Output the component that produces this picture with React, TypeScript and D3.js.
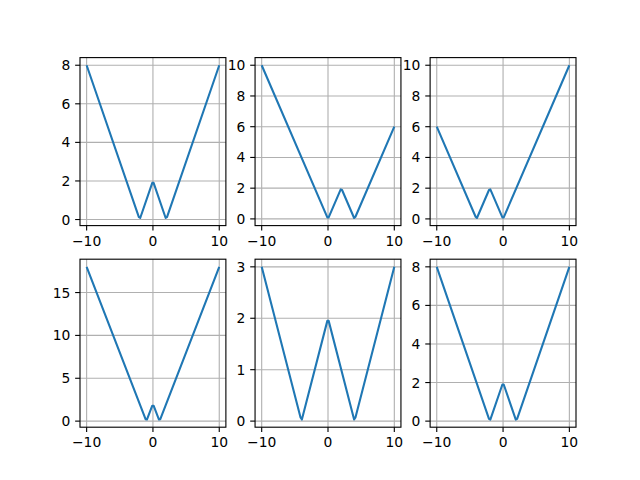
import React from 'react';
import * as d3 from 'd3';

// vertices of each curve
const xs1 = [-10, -2.121, -1.919, -0.101, 0.101, 1.919, 2.121, 10];
const ys1 = [8, 0.121, 0.081, 1.899, 1.899, 0.081, 0.121, 8];
const xs2 = [-10, -0.101, 0.101, 1.919, 2.121, 3.939, 4.141, 10];
const ys2 = [10, 0.101, 0.101, 1.919, 1.879, 0.061, 0.141, 6];
const xs3 = [-10, -4.141, -3.939, -2.121, -1.919, -0.101, 0.101, 10];
const ys3 = [6, 0.141, 0.061, 1.879, 1.919, 0.101, 0.101, 10];
const xs4 = [-10, -1.111, -0.909, -0.101, 0.101, 0.909, 1.111, 10];
const ys4 = [18, 0.222, 0.182, 1.798, 1.798, 0.182, 0.222, 18];
const xs5 = [-10, -4.141, -3.939, -0.101, 0.101, 3.939, 4.141, 10];
const ys5 = [3, 0.071, 0.030, 1.949, 1.949, 0.030, 0.071, 3];
const xs6 = [-10, -2.121, -1.919, -0.101, 0.101, 1.919, 2.121, 10];
const ys6 = [8, 0.121, 0.081, 1.899, 1.899, 0.081, 0.121, 8];

const xTicks = [-10, 0, 10];
const yTicks1 = [0, 2, 4, 6, 8];
const yTicks2 = [0, 2, 4, 6, 8, 10];
const yTicks3 = [0, 2, 4, 6, 8, 10];
const yTicks4 = [0, 5, 10, 15];
const yTicks5 = [0, 1, 2, 3];
const yTicks6 = [0, 2, 4, 6, 8];

const panels = [
  { xs: xs1, ys: ys1, yTicks: yTicks1 },
  { xs: xs2, ys: ys2, yTicks: yTicks2 },
  { xs: xs3, ys: ys3, yTicks: yTicks3 },
  { xs: xs4, ys: ys4, yTicks: yTicks4 },
  { xs: xs5, ys: ys5, yTicks: yTicks5 },
  { xs: xs6, ys: ys6, yTicks: yTicks6 },
];

const W = 640, H = 480;
const left = 0.125 * W, right = 0.9 * W, top = 0.12 * H, bottom = 0.89 * H;
const cw = (right - left) / (3 + 2 * 0.2);
const ch = (bottom - top) / (2 + 0.2);
const pt = 100 / 72;
const font = 'DejaVu Sans, sans-serif';
const fs = 10 * pt;
const tickLen = 3.5 * pt;
const pad = 3.5 * pt;

function Panel({ p, i }) {
  const col = i % 3, row = Math.floor(i / 3);
  const x0 = left + col * cw * 1.2;
  const y0 = top + row * ch * 1.2;
  const xmin = d3.min(p.xs), xmax = d3.max(p.xs);
  const ymin = d3.min(p.ys), ymax = d3.max(p.ys);
  const mx = (xmax - xmin) * 0.05, my = (ymax - ymin) * 0.05;
  const x = d3.scaleLinear().domain([xmin - mx, xmax + mx]).range([0, cw]);
  const y = d3.scaleLinear().domain([ymin - my, ymax + my]).range([ch, 0]);
  const pts = p.xs.map((v, k) => [v, p.ys[k]]);
  const line = d3.line().x(d => x(d[0])).y(d => y(d[1]));
  return (
    <g transform={`translate(${x0},${y0})`}>
      <rect width={cw} height={ch} fill="white" />
      {xTicks.map(t => (
        <line key={'gx' + t} x1={x(t)} x2={x(t)} y1={0} y2={ch} stroke="#b0b0b0" strokeWidth={0.8 * pt} />
      ))}
      {p.yTicks.map(t => (
        <line key={'gy' + t} x1={0} x2={cw} y1={y(t)} y2={y(t)} stroke="#b0b0b0" strokeWidth={0.8 * pt} />
      ))}
      <path d={line(pts)} fill="none" stroke="#1f77b4" strokeWidth={1.5 * pt} strokeLinejoin="round" strokeLinecap="butt" />
      <rect width={cw} height={ch} fill="none" stroke="black" strokeWidth={0.8 * pt} />
      {xTicks.map(t => (
        <g key={'tx' + t} transform={`translate(${x(t)},${ch})`}>
          <line y2={tickLen} stroke="black" strokeWidth={0.8 * pt} />
          <text y={tickLen + pad} dy="0.76em" textAnchor="middle" fontSize={fs} fontFamily={font}>{t < 0 ? '\u2212' + Math.abs(t) : t}</text>
        </g>
      ))}
      {p.yTicks.map(t => (
        <g key={'ty' + t} transform={`translate(0,${y(t)})`}>
          <line x2={-tickLen} stroke="black" strokeWidth={0.8 * pt} />
          <text x={-(tickLen + pad)} dy="0.36em" textAnchor="end" fontSize={fs} fontFamily={font}>{t}</text>
        </g>
      ))}
    </g>
  );
}

export default function App() {
  return (
    <svg width={W} height={H} style={{ display: 'block', position: 'absolute', left: 0, top: 0 }}>
      <rect width={W} height={H} fill="white" />
      {panels.map((p, i) => <Panel key={i} p={p} i={i} />)}
    </svg>
  );
}
